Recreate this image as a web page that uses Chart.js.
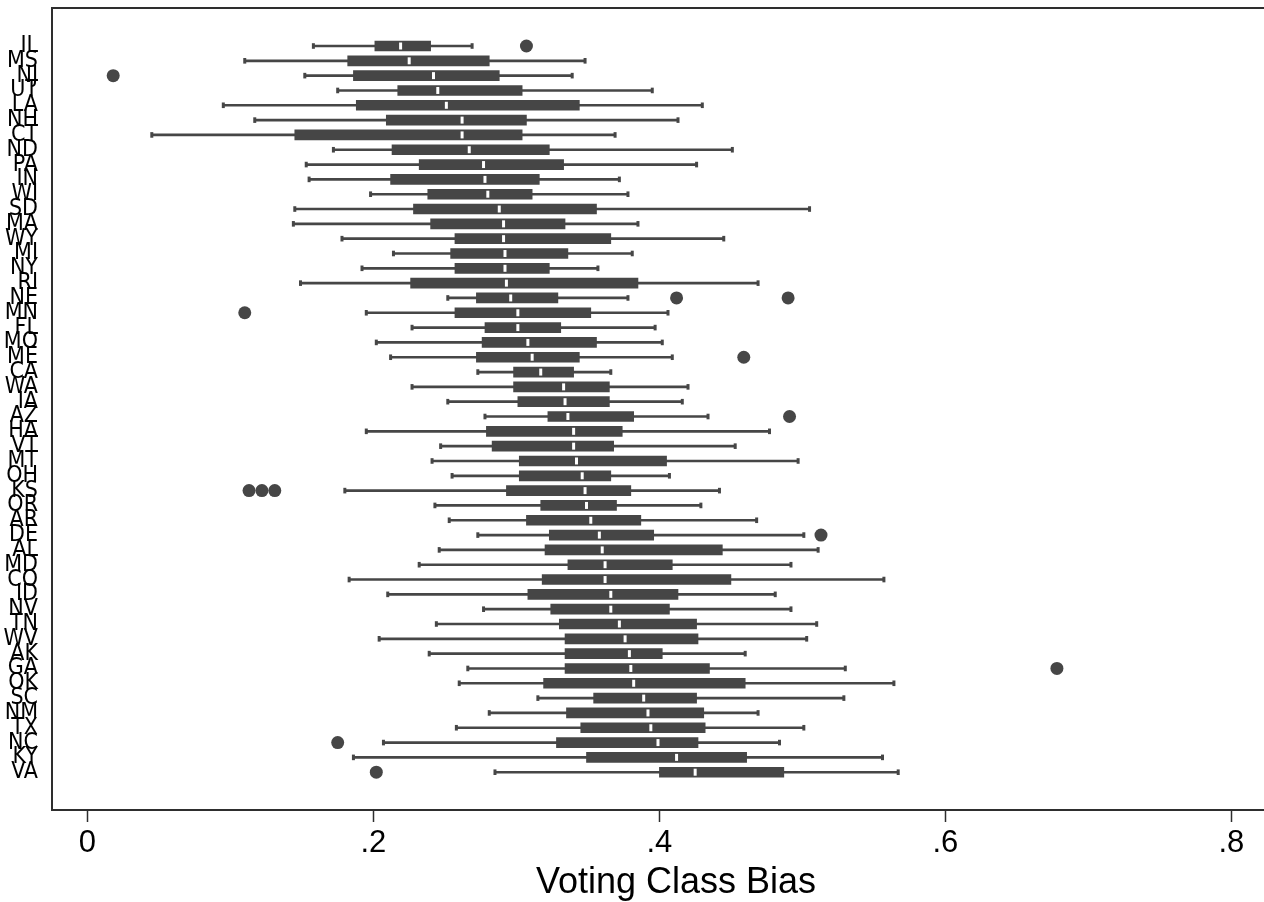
<!DOCTYPE html>
<html>
<head>
<meta charset="utf-8">
<script src="https://cdn.jsdelivr.net/npm/chart.js@4.4.1/dist/chart.umd.min.js"></script>
<style>
  html, body { margin: 0; padding: 0; background: #ffffff; overflow: hidden; }
  canvas { display: block; }
</style>
</head>
<body>
<canvas id="c" width="1264" height="902" style="width:1264px;height:902px"></canvas>
<script>
// ---- data ----
const states = ['IL','MS','NJ','UT','LA','NH','CT','ND','PA','IN','WI','SD','MA','WY','MI','NY','RI','NE','MN','FL','MO','ME','CA','WA','IA','AZ','HA','VT','MT','OH','KS','OR','AR','DE','AL','MD','CO','ID','NV','TN','WV','AK','GA','OK','SC','NM','TX','NC','KY','VA'];

const whiskerLow = [0.158,0.110,0.152,0.175,0.095,0.117,0.045,0.172,0.153,0.155,0.198,0.145,0.144,0.178,0.214,0.192,0.149,0.252,0.195,0.227,0.202,0.212,0.273,0.227,0.252,0.278,0.195,0.247,0.241,0.255,0.180,0.243,0.253,0.273,0.246,0.232,0.183,0.210,0.277,0.244,0.204,0.239,0.266,0.260,0.315,0.281,0.258,0.207,0.186,0.285];

const q1 = [0.201,0.182,0.186,0.217,0.188,0.209,0.145,0.213,0.232,0.212,0.238,0.228,0.240,0.257,0.254,0.257,0.226,0.272,0.257,0.278,0.276,0.272,0.298,0.298,0.301,0.322,0.279,0.283,0.302,0.302,0.293,0.317,0.307,0.323,0.320,0.336,0.318,0.308,0.324,0.330,0.334,0.334,0.334,0.319,0.354,0.335,0.345,0.328,0.349,0.400];

const median = [0.219,0.225,0.242,0.245,0.251,0.262,0.262,0.267,0.277,0.278,0.280,0.288,0.291,0.291,0.292,0.292,0.293,0.296,0.301,0.301,0.308,0.311,0.317,0.333,0.334,0.336,0.340,0.340,0.342,0.346,0.348,0.349,0.352,0.358,0.360,0.362,0.362,0.366,0.366,0.372,0.376,0.379,0.380,0.382,0.389,0.392,0.394,0.399,0.412,0.425];

const q3 = [0.240,0.281,0.288,0.304,0.344,0.307,0.304,0.323,0.333,0.316,0.311,0.356,0.334,0.366,0.336,0.323,0.385,0.329,0.352,0.331,0.356,0.344,0.340,0.365,0.365,0.382,0.374,0.368,0.405,0.366,0.380,0.370,0.387,0.396,0.444,0.409,0.450,0.413,0.407,0.426,0.427,0.402,0.435,0.460,0.426,0.431,0.432,0.427,0.461,0.487];

const whiskerHigh = [0.269,0.348,0.339,0.395,0.430,0.413,0.369,0.451,0.426,0.372,0.378,0.505,0.385,0.445,0.381,0.357,0.469,0.378,0.406,0.397,0.402,0.409,0.366,0.420,0.416,0.434,0.477,0.453,0.497,0.407,0.442,0.429,0.468,0.501,0.511,0.492,0.557,0.481,0.492,0.510,0.503,0.460,0.530,0.564,0.529,0.469,0.501,0.484,0.556,0.567];

const outlierStates = ['IL','NJ','NE','NE','MN','ME','AZ','KS','KS','KS','DE','GA','NC','VA'];
const outlierValues = [0.307,0.018,0.412,0.490,0.110,0.459,0.491,0.113,0.122,0.131,0.513,0.678,0.175,0.202];

const xTickValues = [0, 0.2, 0.4, 0.6, 0.8];
const xTickLabels = ['0', '.2', '.4', '.6', '.8'];
const xTitle = 'Voting Class Bias';

// ---- build datasets ----
const idx = s => states.indexOf(s);
const boxData = states.map((s, i) => ({ y: i, x: [q1[i], q3[i]] }));
const whiskerData = states.map((s, i) => ({ y: i, x: [whiskerLow[i], whiskerHigh[i]] }));
const capData = states.map((s, i) => ({ y: i, x: whiskerLow[i] }))
  .concat(states.map((s, i) => ({ y: i, x: whiskerHigh[i] })));
const medianData = states.map((s, i) => ({ y: i, x: median[i] }));
const outlierData = outlierStates.map((s, k) => ({ y: idx(s), x: outlierValues[k] }));

const DARK = '#464646';
const FRAME = '#2e2e2e';
// the original plot frame runs past the right edge of the picture (it is cropped)
const XMIN = -0.0248, XMAX = 0.848;
const PLOT_RIGHT = 1300;

const noPad = s => { s.paddingLeft = 0; s.paddingRight = 0; s.paddingTop = 0; s.paddingBottom = 0; };

// let the plot area continue beyond the canvas' right edge, as in the cropped original
const extendRight = {
  id: 'extendRight',
  afterLayout(chart) {
    const ca = chart.chartArea;
    ca.right = PLOT_RIGHT;
    ca.width = PLOT_RIGHT - ca.left;
    ['x', 'xTop'].forEach(id => {
      const s = chart.scales[id];
      s.right = PLOT_RIGHT;
      s.width = PLOT_RIGHT - s.left;
      s.configure();
    });
  }
};

new Chart(document.getElementById('c'), {
  type: 'bar',
  data: {
    datasets: [
      { type: 'scatter', data: medianData, order: 0,
        pointStyle: 'line', pointRotation: 90, pointRadius: 3.5,
        pointBorderWidth: 3, pointBorderColor: '#ffffff', pointBackgroundColor: '#ffffff',
        xAxisID: 'x', yAxisID: 'y' },
      { type: 'bar', indexAxis: 'y', data: boxData, order: 1, grouped: false,
        barThickness: 10, backgroundColor: DARK, borderWidth: 0,
        xAxisID: 'x', yAxisID: 'y' },
      { type: 'scatter', data: capData, order: 2,
        pointStyle: 'line', pointRotation: 90, pointRadius: 2.8,
        pointBorderWidth: 3, pointBorderColor: DARK, pointBackgroundColor: DARK,
        xAxisID: 'x', yAxisID: 'y' },
      { type: 'bar', indexAxis: 'y', data: whiskerData, order: 3, grouped: false,
        barThickness: 2, backgroundColor: DARK, borderWidth: 0,
        xAxisID: 'x', yAxisID: 'y' },
      { type: 'scatter', data: outlierData, order: 4,
        pointStyle: 'circle', pointRadius: 6.5, pointBorderWidth: 0,
        pointBackgroundColor: DARK, pointBorderColor: DARK,
        xAxisID: 'x', yAxisID: 'y' }
    ]
  },
  plugins: [extendRight],
  options: {
    responsive: false,
    animation: false,
    events: [],
    layout: { autoPadding: false, padding: { top: 8, left: 0, right: 0, bottom: 0 } },
    plugins: { legend: { display: false }, tooltip: { enabled: false } },
    scales: {
      x: {
        type: 'linear', position: 'bottom', min: XMIN, max: XMAX,
        offset: false, beginAtZero: false,
        afterBuildTicks: s => { s.ticks = xTickValues.map(v => ({ value: v })); },
        afterFit: s => { s.height = 92; noPad(s); },
        ticks: {
          callback: (v, i) => xTickLabels[i],
          font: { family: 'Liberation Sans', size: 31 },
          color: '#000000', padding: 3, maxRotation: 0, autoSkip: false
        },
        grid: { offset: false, drawOnChartArea: false, drawTicks: true, tickLength: 12, tickColor: FRAME, tickWidth: 1.5 },
        border: { display: true, color: FRAME, width: 2 },
        title: { display: true, text: xTitle, color: '#000000',
                 font: { family: 'Liberation Sans', size: 36, lineHeight: 1.0 }, padding: { top: 0, bottom: 1 } }
      },
      xTop: {
        type: 'linear', position: 'top', min: XMIN, max: XMAX,
        offset: false,
        afterFit: s => { s.height = 0; noPad(s); },
        ticks: { display: false },
        grid: { offset: false, drawOnChartArea: false, drawTicks: false },
        border: { display: true, color: FRAME, width: 2 }
      },
      y: {
        type: 'linear', position: 'left', reverse: true, min: -2.564, max: 51.55,
        offset: false, beginAtZero: false,
        afterBuildTicks: s => { s.ticks = states.map((_, i) => ({ value: i })); },
        afterFit: s => { s.width = 52; noPad(s); },
        ticks: {
          callback: v => states[v],
          font: { family: "'Liberation Sans Narrow', 'DejaVu Sans Condensed', 'Liberation Sans'", size: 23 },
          color: '#000000', padding: 14, autoSkip: false
        },
        grid: { display: false, drawTicks: false },
        border: { display: true, color: FRAME, width: 2 }
      }
    }
  }
});
</script>
</body>
</html>
